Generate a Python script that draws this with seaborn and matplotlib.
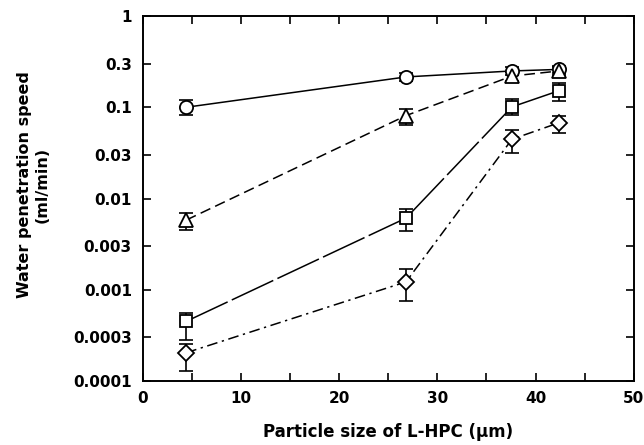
import numpy as np
import pandas as pd
import matplotlib
matplotlib.use("Agg")
import matplotlib.pyplot as plt
import seaborn as sns
from matplotlib.ticker import FixedLocator, NullLocator, MultipleLocator

# ---- data ----
x_size = [4.4, 26.8, 37.6, 42.4]

circle_y = [0.100, 0.215, 0.250, 0.260]
circle_lo = [0.082, 0.195, 0.225, 0.235]
circle_hi = [0.120, 0.240, 0.275, 0.285]

triangle_y = [0.0058, 0.081, 0.220, 0.250]
triangle_lo = [0.0045, 0.064, 0.195, 0.225]
triangle_hi = [0.0070, 0.095, 0.245, 0.275]

square_y = [0.00045, 0.0061, 0.101, 0.152]
square_lo = [0.000284, 0.0044, 0.082, 0.118]
square_hi = [0.00055, 0.0076, 0.122, 0.183]

diamond_y = [0.000204, 0.00122, 0.0446, 0.0677]
diamond_lo = [0.000128, 0.00076, 0.0318, 0.0526]
diamond_hi = [0.000257, 0.00168, 0.0563, 0.081]

y_ticks = [1, 0.3, 0.1, 0.03, 0.01, 0.003, 0.001, 0.0003, 0.0001]
y_tick_labels = ["1", "0.3", "0.1", "0.03", "0.01", "0.003", "0.001", "0.0003", "0.0001"]
x_ticks = [0, 10, 20, 30, 40, 50]

sns.set_style("ticks")
plt.rcParams['font.family'] = ['DejaVu Sans']
plt.rcParams['text.color'] = 'black'
plt.rcParams['axes.labelcolor'] = 'black'
plt.rcParams['xtick.color'] = 'black'
plt.rcParams['ytick.color'] = 'black'

fig = plt.figure(figsize=(6.44, 4.45), dpi=100)
ax = fig.add_axes([0.222, 0.1438, 0.762, 0.8202])

series = [
    ("circle", circle_y, circle_lo, circle_hi, "o", None, 9.5),
    ("triangle", triangle_y, triangle_lo, triangle_hi, "^", (7, 3.5), 9.5),
    ("square", square_y, square_lo, square_hi, "s", (30, 3), 8.5),
    ("diamond", diamond_y, diamond_lo, diamond_hi, "D", (7, 3, 1.5, 3), 8),
]

for name, ys, lo, hi, mk, dash, ms in series:
    df = pd.DataFrame({"x": x_size, "y": ys})
    yerr = np.array([np.array(ys) - np.array(lo), np.array(hi) - np.array(ys)])
    ax.errorbar(x_size, ys, yerr=yerr, fmt="none", ecolor="black",
                elinewidth=1.2, capsize=5, capthick=1.2, zorder=2)
    sns.lineplot(data=df, x="x", y="y", ax=ax, color="black", lw=1.1,
                 zorder=1, estimator=None, sort=False)
    if dash is not None:
        ax.lines[-1].set_dashes(dash)
    ax.plot(x_size, ys, linestyle="none", marker=mk, markersize=ms,
            markerfacecolor="white", markeredgecolor="black",
            markeredgewidth=1.3, zorder=3)

ax.set_yscale("log")
ax.set_ylim(0.0001, 1)
ax.set_xlim(0, 50)
ax.yaxis.set_major_locator(FixedLocator(y_ticks))
ax.set_yticklabels(y_tick_labels)
ax.yaxis.set_minor_locator(NullLocator())
ax.xaxis.set_major_locator(FixedLocator(x_ticks))
ax.xaxis.set_minor_locator(MultipleLocator(5))

ax.tick_params(which="both", direction="in", top=True, right=True,
               width=1.2, labelsize=11, colors="black")
ax.tick_params(which="both", length=6)
ax.tick_params(axis="x", which="both", pad=7)
ax.tick_params(axis="y", which="both", pad=8)
for lab in ax.get_xticklabels() + ax.get_yticklabels():
    lab.set_fontweight("bold")
for sp in ax.spines.values():
    sp.set_linewidth(1.4)
    sp.set_color("black")
    sp.set_visible(True)

ax.set_xlabel("Particle size of L-HPC (μm)", fontsize=12, fontweight="bold")
ax.xaxis.set_label_coords(0.5, -0.115)
ax.set_ylabel("Water penetration speed\n(ml/min)", fontsize=11.5, fontweight="bold")
ax.yaxis.set_label_coords(-0.19, 0.537)

fig.savefig("out.png", dpi=100)
